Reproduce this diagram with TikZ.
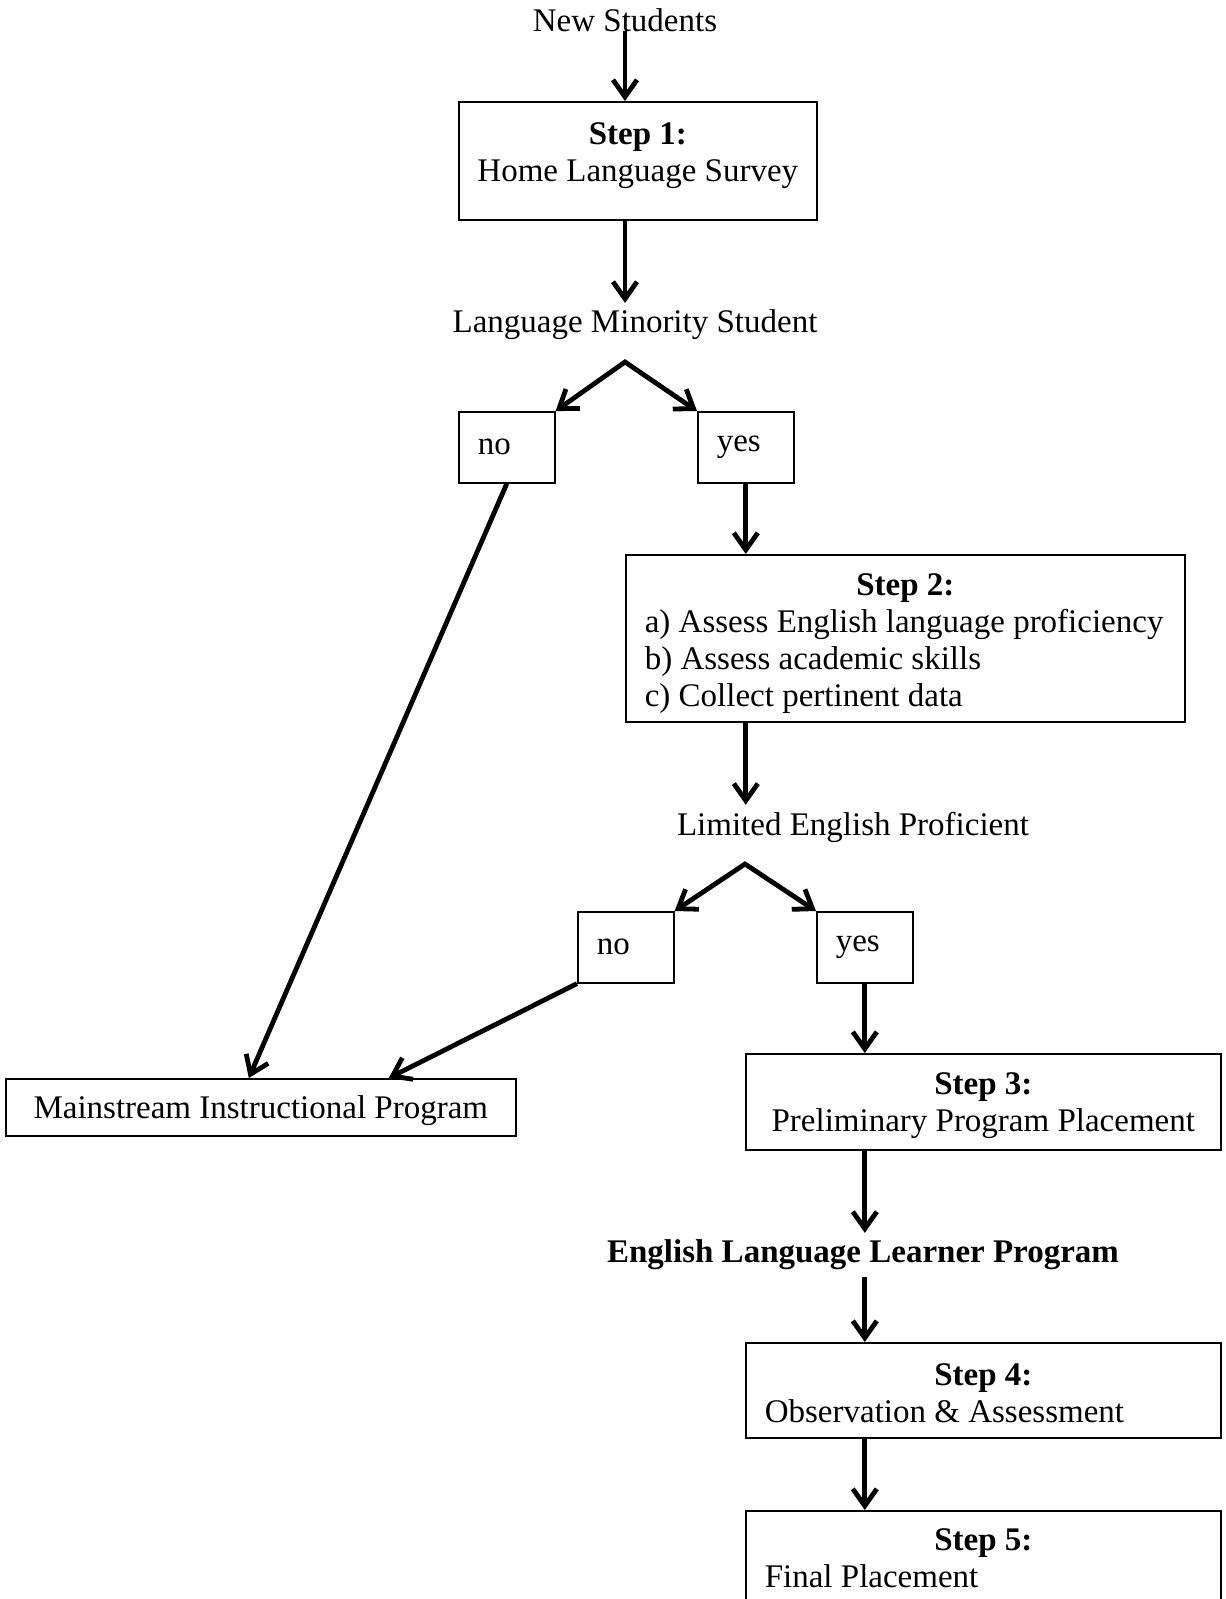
\documentclass[tikz,border=0pt]{standalone}
\usepackage{fontspec}
\setmainfont{Liberation Serif}
\usetikzlibrary{arrows.meta,positioning}
\tikzset{
  flowtext/.style={font=\fontsize{16.5}{18.5}\selectfont},
  stepbox/.style={flowtext, draw, line width=0.8pt, anchor=north west},
  choicebox/.style={stepbox, text width=29pt, inner xsep=9.5pt,
    minimum height=35.5pt, align=flush left},
  listbox/.style={stepbox, inner xsep=9.5pt, align=flush left},
  arrw/.style={-{Straight Barb[length=8.5pt,width=12pt]}, line width=2.4pt},
  forkarrw/.style={{Straight Barb[length=8.5pt,width=12pt]}-{Straight Barb[length=8.5pt,width=12pt]},
    line width=2.4pt, line join=miter},
}
\newcommand{\steptitle}[1]{\hfill\textbf{#1}\hfill\mbox{}}

\begin{document}
\begin{tikzpicture}[x=0.5pt, y=-0.5pt]
  \clip (0,0) rectangle (1225,1599);

  \node[flowtext] (newst) at (625,20) {New Students};
  \node[stepbox, minimum width=179pt, minimum height=59pt, align=center,
        text depth=9pt] (s1) at (458,101) {\textbf{Step 1:}\\Home Language Survey};
  \node[flowtext] (lms) at (635,325) {Language Minority Student};
  \coordinate (fork1) at (625,362);
  \node[choicebox] (no1) at (458,411) {no};
  \node[choicebox] (yes1) at (697,411) {yes};

  \node[listbox, text width=260.5pt, minimum height=83.5pt, text depth=54pt] (s2)
    at (625,554) {\steptitle{Step 2:}\\a) Assess English language proficiency\\
     b) Assess academic skills\\c) Collect pertinent data};
  \node[flowtext] (lep) at (853,827) {Limited English Proficient};
  \coordinate (fork2) at (745,864);
  \node[choicebox] (no2) at (577,911) {no};
  \node[choicebox] (yes2) at (816,911) {yes};

  \node[stepbox, minimum width=255pt, minimum height=28.5pt, text depth=0pt] (main)
    at (5,1078) {Mainstream Instructional Program};
  \node[stepbox, minimum width=237.5pt, minimum height=48pt, align=center,
        text depth=0pt] (s3) at (745,1053) {\textbf{Step 3:}\\Preliminary Program Placement};
  \node[flowtext] (ell) at (863,1255) {\textbf{English Language Learner Program}};
  \node[listbox, text width=218.5pt, minimum height=47.5pt, text depth=16pt] (s4)
    at (745,1342) {\steptitle{Step 4:}\\Observation \& Assessment};
  \node[listbox, text width=218.5pt, minimum height=47.5pt] (s5) at (745,1510)
    {\steptitle{Step 5:}\\Final Placement};

  \draw[arrw] (newst.base) -- (newst.base |- s1.north);
  \draw[arrw] (newst.base |- s1.south) -- (newst.base |- lms.north);
  \draw[forkarrw] (no1.north east) -- (fork1) -- (yes1.north west);
  \draw[arrw] (no1.south) -- ([xshift=-6pt]main.north);
  \draw[arrw] (yes1.south) -- (yes1.south |- s2.north);
  \draw[arrw] (yes1.south |- s2.south) -- (yes1.south |- lep.north);
  \draw[forkarrw] (no2.north east) -- (fork2) -- (yes2.north west);
  \draw[arrw] (no2.south west) -- ([xshift=64pt]main.north);
  \draw[arrw] (yes2.south) -- (yes2.south |- s3.north);
  \draw[arrw] (yes2.south |- s3.south) -- (yes2.south |- ell.north);
  \draw[arrw] (yes2.south |- ell.south) -- (yes2.south |- s4.north);
  \draw[arrw] (yes2.south |- s4.south) -- (yes2.south |- s5.north);
\end{tikzpicture}
\end{document}
